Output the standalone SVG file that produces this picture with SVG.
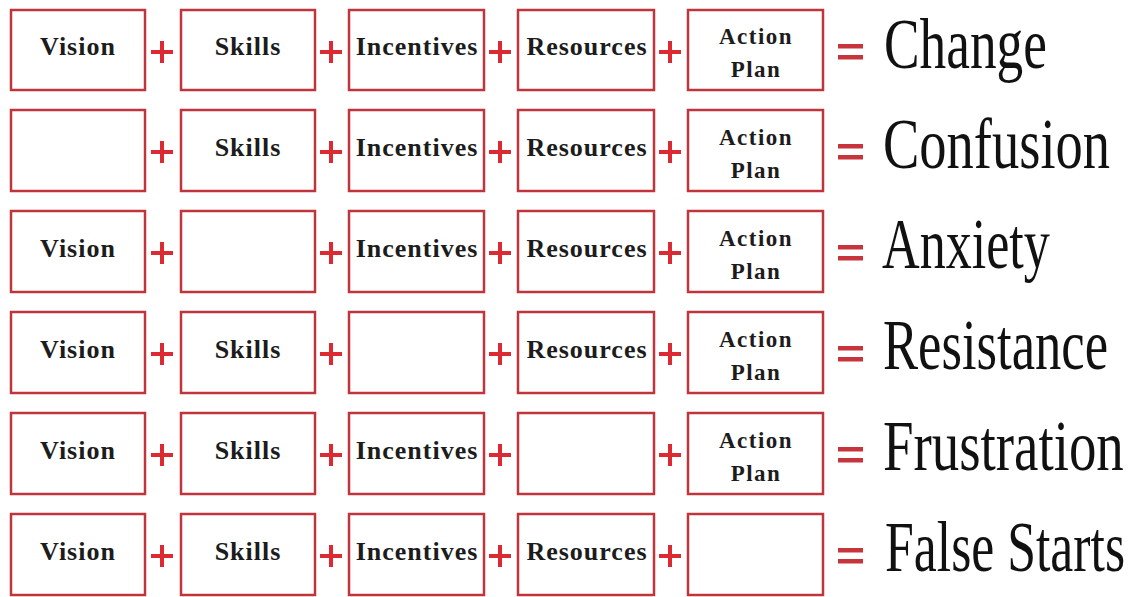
<svg xmlns="http://www.w3.org/2000/svg" width="1133" height="597" viewBox="0 0 1133 597">
<style>
.box{fill:#fff;stroke:#c0343b;stroke-width:2.5}
.t{font-family:"Liberation Serif",serif;font-weight:bold;font-size:26px;letter-spacing:1px;fill:#1c1c1c;text-anchor:middle}
.ta{font-family:"Liberation Serif",serif;font-weight:bold;font-size:23px;letter-spacing:1.5px;fill:#1c1c1c;text-anchor:middle}
.plus{stroke:#dc2a32;stroke-width:4;fill:none}
.eq{fill:#c8343c}
.res{font-family:"Liberation Serif",serif;font-size:72px;fill:#111}
</style>
<defs>
<g id="plus"><path class="plus" d="M-11 0H11M0 -11V11"/></g>
<g id="eq"><rect class="eq" x="0" y="0" width="25" height="4.5"/><rect class="eq" x="0" y="11" width="25" height="4.5"/></g>
</defs>
<rect width="1133" height="597" fill="#fff"/>

<g id="connectors">
<use href="#plus" x="162" y="52"/><use href="#plus" x="331" y="52"/><use href="#plus" x="500" y="52"/><use href="#plus" x="670" y="52"/><use href="#eq" x="838" y="44"/>
<use href="#plus" x="162" y="152"/><use href="#plus" x="331" y="152"/><use href="#plus" x="500" y="152"/><use href="#plus" x="670" y="152"/><use href="#eq" x="838" y="144"/>
<use href="#plus" x="162" y="253"/><use href="#plus" x="331" y="253"/><use href="#plus" x="500" y="253"/><use href="#plus" x="670" y="253"/><use href="#eq" x="838" y="245"/>
<use href="#plus" x="162" y="354"/><use href="#plus" x="331" y="354"/><use href="#plus" x="500" y="354"/><use href="#plus" x="670" y="354"/><use href="#eq" x="838" y="346"/>
<use href="#plus" x="162" y="455"/><use href="#plus" x="331" y="455"/><use href="#plus" x="500" y="455"/><use href="#plus" x="670" y="455"/><use href="#eq" x="838" y="447"/>
<use href="#plus" x="162" y="556"/><use href="#plus" x="331" y="556"/><use href="#plus" x="500" y="556"/><use href="#plus" x="670" y="556"/><use href="#eq" x="838" y="548"/>
</g>

<!-- Row 1 -->
<g id="r1-vision"><rect class="box" x="11" y="10" width="134" height="80"/><text class="t" x="78" y="55">Vision</text></g>
<g id="r1-skills"><rect class="box" x="181" y="10" width="134" height="80"/><text class="t" x="248" y="55">Skills</text></g>
<g id="r1-incentives"><rect class="box" x="349" y="10" width="135" height="80"/><text class="t" x="417" y="55">Incentives</text></g>
<g id="r1-resources"><rect class="box" x="518" y="10" width="136" height="80"/><text class="t" x="587" y="55">Resources</text></g>
<g id="r1-action"><rect class="box" x="688" y="10" width="135" height="80"/><text class="ta" x="756" y="44">Action</text><text class="ta" x="756" y="77">Plan</text></g>
<g id="r1-result"><text class="res" transform="translate(884,68) scale(0.741,1)">Change</text></g>

<!-- Row 2 -->
<g id="r2-vision"><rect class="box" x="11" y="110" width="134" height="81"/></g>
<g id="r2-skills"><rect class="box" x="181" y="110" width="134" height="81"/><text class="t" x="248" y="156">Skills</text></g>
<g id="r2-incentives"><rect class="box" x="349" y="110" width="135" height="81"/><text class="t" x="417" y="156">Incentives</text></g>
<g id="r2-resources"><rect class="box" x="518" y="110" width="136" height="81"/><text class="t" x="587" y="156">Resources</text></g>
<g id="r2-action"><rect class="box" x="688" y="110" width="135" height="81"/><text class="ta" x="756" y="145">Action</text><text class="ta" x="756" y="178">Plan</text></g>
<g id="r2-result"><text class="res" transform="translate(883,168) scale(0.757,1)">Confusion</text></g>

<!-- Row 3 -->
<g id="r3-vision"><rect class="box" x="11" y="211" width="134" height="81"/><text class="t" x="78" y="257">Vision</text></g>
<g id="r3-skills"><rect class="box" x="181" y="211" width="134" height="81"/></g>
<g id="r3-incentives"><rect class="box" x="349" y="211" width="135" height="81"/><text class="t" x="417" y="257">Incentives</text></g>
<g id="r3-resources"><rect class="box" x="518" y="211" width="136" height="81"/><text class="t" x="587" y="257">Resources</text></g>
<g id="r3-action"><rect class="box" x="688" y="211" width="135" height="81"/><text class="ta" x="756" y="246">Action</text><text class="ta" x="756" y="279">Plan</text></g>
<g id="r3-result"><text class="res" transform="translate(882,268) scale(0.724,1)">Anxiety</text></g>

<!-- Row 4 -->
<g id="r4-vision"><rect class="box" x="11" y="312" width="134" height="81"/><text class="t" x="78" y="358">Vision</text></g>
<g id="r4-skills"><rect class="box" x="181" y="312" width="134" height="81"/><text class="t" x="248" y="358">Skills</text></g>
<g id="r4-incentives"><rect class="box" x="349" y="312" width="135" height="81"/></g>
<g id="r4-resources"><rect class="box" x="518" y="312" width="136" height="81"/><text class="t" x="587" y="358">Resources</text></g>
<g id="r4-action"><rect class="box" x="688" y="312" width="135" height="81"/><text class="ta" x="756" y="347">Action</text><text class="ta" x="756" y="380">Plan</text></g>
<g id="r4-result"><text class="res" transform="translate(883,369) scale(0.731,1)">Resistance</text></g>

<!-- Row 5 -->
<g id="r5-vision"><rect class="box" x="11" y="413" width="134" height="81"/><text class="t" x="78" y="459">Vision</text></g>
<g id="r5-skills"><rect class="box" x="181" y="413" width="134" height="81"/><text class="t" x="248" y="459">Skills</text></g>
<g id="r5-incentives"><rect class="box" x="349" y="413" width="135" height="81"/><text class="t" x="417" y="459">Incentives</text></g>
<g id="r5-resources"><rect class="box" x="518" y="413" width="136" height="81"/></g>
<g id="r5-action"><rect class="box" x="688" y="413" width="135" height="81"/><text class="ta" x="756" y="448">Action</text><text class="ta" x="756" y="481">Plan</text></g>
<g id="r5-result"><text class="res" transform="translate(883,470) scale(0.762,1)">Frustration</text></g>

<!-- Row 6 -->
<g id="r6-vision"><rect class="box" x="11" y="514" width="134" height="81"/><text class="t" x="78" y="560">Vision</text></g>
<g id="r6-skills"><rect class="box" x="181" y="514" width="134" height="81"/><text class="t" x="248" y="560">Skills</text></g>
<g id="r6-incentives"><rect class="box" x="349" y="514" width="135" height="81"/><text class="t" x="417" y="560">Incentives</text></g>
<g id="r6-resources"><rect class="box" x="518" y="514" width="136" height="81"/><text class="t" x="587" y="560">Resources</text></g>
<g id="r6-action"><rect class="box" x="688" y="514" width="135" height="81"/></g>
<g id="r6-result"><text class="res" transform="translate(885,571) scale(0.719,1)">False Starts</text></g>
</svg>
